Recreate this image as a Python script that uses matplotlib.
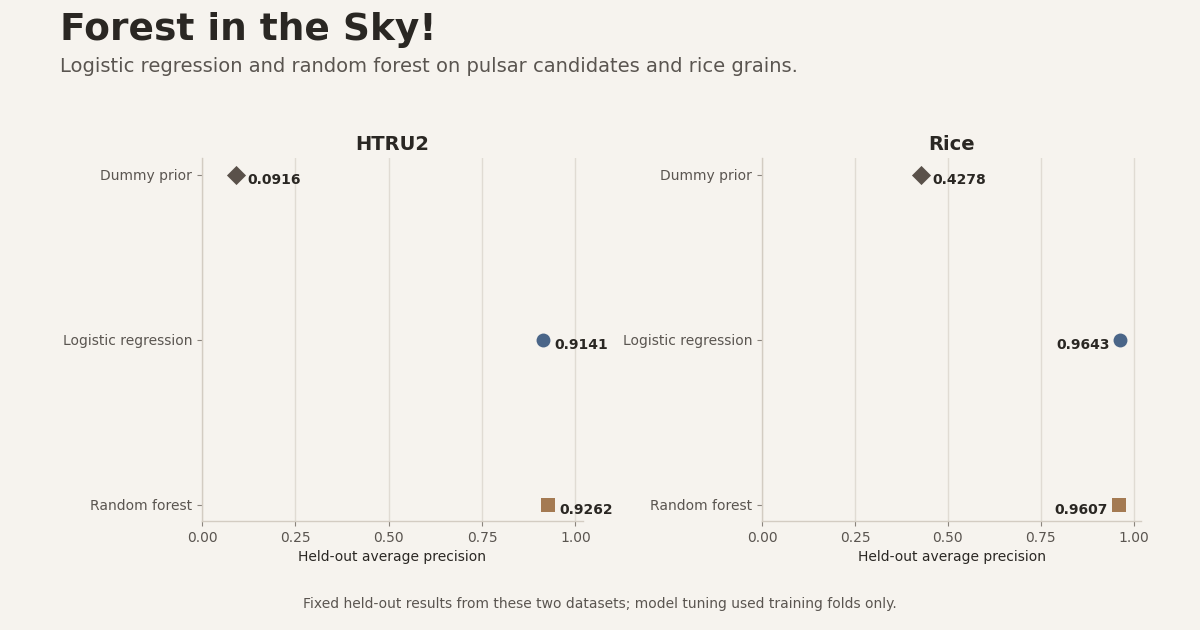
import matplotlib
matplotlib.use("Agg")
import matplotlib.pyplot as plt

# held-out average precision per dataset
models = ["Dummy prior", "Logistic regression", "Random forest"]
datasets = ["HTRU2", "Rice"]
htru2_scores = [0.0916, 0.9141, 0.9262]
rice_scores = [0.4278, 0.9643, 0.9607]
xticks = [0.0, 0.25, 0.5, 0.75, 1.0]

BG = "#f6f3ee"
INK = "#2a2723"
MUTED = "#5a5550"
GRID = "#e0dbd3"
SPINE = "#d3ccc2"
marker_styles = [("D", "#5a514a"), ("o", "#4a6588"), ("s", "#a47a52")]

plt.rcParams["font.family"] = "DejaVu Sans"

fig = plt.figure(figsize=(12, 6.3), dpi=100, facecolor=BG)
ax1 = fig.add_axes([0.1683, 0.173, 0.3175, 0.576])
ax2 = fig.add_axes([0.635, 0.173, 0.316, 0.576])

for ax, name, scores in [(ax1, datasets[0], htru2_scores), (ax2, datasets[1], rice_scores)]:
    ax.set_facecolor(BG)
    for i, (m, s) in enumerate(zip(models, scores)):
        mk, col = marker_styles[i]
        ax.scatter([s], [i], marker=mk, s=100 if mk != "D" else 95, color=col,
                   zorder=3, linewidths=0)
        if s > 0.95:
            ax.annotate(f"{s:.4f}", (s, i), xytext=(-8, -4), textcoords="offset points",
                        ha="right", va="center", fontsize=10, fontweight="bold", color=INK)
        else:
            ax.annotate(f"{s:.4f}", (s, i), xytext=(8, -4), textcoords="offset points",
                        ha="left", va="center", fontsize=10, fontweight="bold", color=INK)
    ax.set_xlim(0, 1.02)
    ax.set_ylim(2.1, -0.1)
    ax.set_yticks(range(len(models)))
    ax.set_yticklabels(models)
    ax.set_xticks(xticks)
    ax.set_xticklabels([f"{t:.2f}" for t in xticks])
    ax.grid(axis="x", color=GRID, linewidth=1)
    ax.grid(axis="y", visible=False)
    ax.set_axisbelow(True)
    for sp in ["top", "right"]:
        ax.spines[sp].set_visible(False)
    for sp in ["left", "bottom"]:
        ax.spines[sp].set_color(SPINE)
        ax.spines[sp].set_linewidth(1)
    ax.tick_params(axis="both", colors=MUTED, labelsize=10, length=3.5, width=0.8)
    ax.tick_params(axis="both", color="#8a847d")
    ax.set_xlabel("Held-out average precision", fontsize=10, color=INK, labelpad=4)
    ax.set_title(name, fontsize=14, fontweight="bold", color=INK, pad=6)

fig.text(0.05, 0.952, "Forest in the Sky!", fontsize=27, fontweight="bold", color=INK,
         ha="left", va="center")
fig.text(0.05, 0.895, "Logistic regression and random forest on pulsar candidates and rice grains.",
         fontsize=14, color=MUTED, ha="left", va="center")
fig.text(0.5, 0.041, "Fixed held-out results from these two datasets; model tuning used training folds only.",
         fontsize=10, color=MUTED, ha="center", va="center")

fig.savefig("out.png", dpi=100, facecolor=BG)
